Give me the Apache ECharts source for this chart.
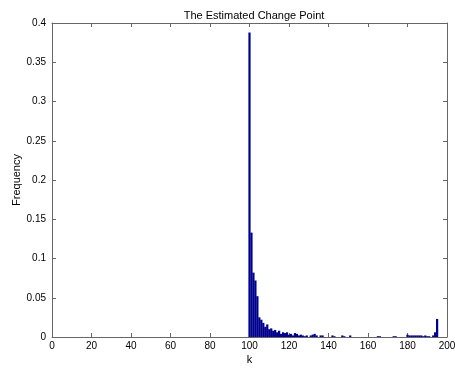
<!DOCTYPE html>
<html>
<head>
<meta charset="utf-8">
<script src="https://cdn.jsdelivr.net/npm/echarts@6/dist/echarts.min.js"></script>
<style>
  html, body { margin: 0; padding: 0; background: #fff; }
  #chart { width: 455px; height: 368px; }
</style>
</head>
<body>
<div id="chart"></div>
<script>
const binK = [100, 101, 102, 103, 104, 105, 106, 107, 108, 109, 110, 111, 112, 113, 114, 115, 116, 117, 118, 119,
  120, 121, 122, 123, 124, 125, 126, 127, 128, 129, 131, 132, 133, 134, 136, 137, 142, 143, 147, 148, 151,
  165, 166, 173, 174, 180, 181, 182, 183, 184, 185, 186, 187, 188, 189, 190, 191, 193, 194, 195];
const freq = [0.388, 0.133, 0.082, 0.072, 0.052, 0.025, 0.022, 0.018, 0.013, 0.016, 0.010, 0.011, 0.008, 0.009, 0.006, 0.008, 0.004, 0.006, 0.005, 0.006,
  0.003, 0.004, 0.002, 0.005, 0.004, 0.002, 0.003, 0.002, 0.001, 0.002, 0.002, 0.003, 0.004, 0.002, 0.002, 0.002, 0.002, 0.001, 0.002, 0.001, 0.002,
  0.001, 0.001, 0.001, 0.001, 0.003, 0.002, 0.002, 0.002, 0.002, 0.002, 0.002, 0.002, 0.001, 0.002, 0.001, 0.001, 0.002, 0.006, 0.023];
const xTicks = { min: 0, max: 200, interval: 20 };
const yTicks = { min: 0, max: 0.4, interval: 0.05 };

const axisGray = "#666";
const font = "Liberation Sans, Arial, sans-serif";
const chart = echarts.init(document.getElementById("chart"));

// matlab style box: lines all round, ticks pointing in
function boxAxis() {
  return {
    axisLine: { show: true, onZero: false, lineStyle: { color: axisGray, width: 1 } },
    axisTick: { show: true, inside: true, length: 4, lineStyle: { color: axisGray } },
    splitLine: { show: false },
  };
}

chart.setOption({
  animation: false,
  title: {
    text: "The Estimated Change Point",
    left: 249,
    textAlign: "center",
    top: 5,
    textStyle: { fontSize: 11, fontWeight: "normal", color: "#000", fontFamily: font },
  },
  grid: { left: 52, right: 8, top: 23, bottom: 31, outerBoundsMode: "none", containLabel: false },
  xAxis: [
    Object.assign({
      type: "value", ...xTicks,
      name: "k", nameLocation: "middle", nameGap: 17, nameMoveOverlap: false,
      nameTextStyle: { fontSize: 11, color: "#000", fontFamily: font },
      axisLabel: { fontSize: 10, color: "#000", fontFamily: font, margin: 4 },
    }, boxAxis()),
    Object.assign({
      type: "value", position: "top", ...xTicks,
      axisLabel: { show: false },
    }, boxAxis()),
  ],
  yAxis: [
    Object.assign({
      type: "value", ...yTicks,
      name: "Frequency", nameLocation: "middle", nameGap: 30, nameMoveOverlap: false,
      nameTextStyle: { fontSize: 11, color: "#000", fontFamily: font },
      axisLabel: { fontSize: 10, color: "#000", fontFamily: font, margin: 6 },
    }, boxAxis()),
    Object.assign({
      type: "value", position: "right", ...yTicks,
      axisLabel: { show: false },
    }, boxAxis()),
  ],
  series: [
    {
      type: "bar",
      xAxisIndex: 0,
      yAxisIndex: 0,
      barWidth: 2.2,
      itemStyle: { color: "#00008F" },
      data: binK.map((k, i) => [k, freq[i]]),
    },
  ],
});
</script>
</body>
</html>
